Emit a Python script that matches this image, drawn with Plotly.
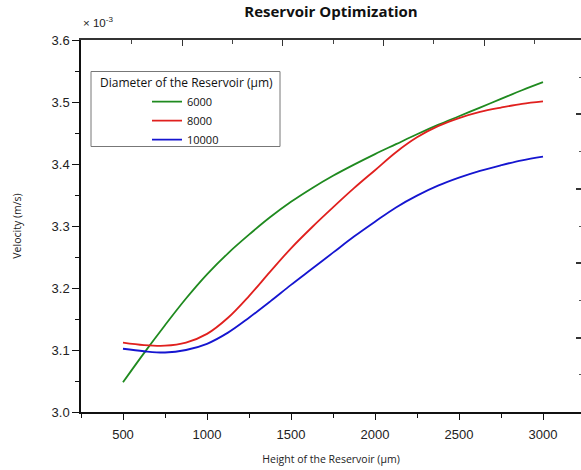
import plotly.graph_objects as go

# Height of the reservoir (µm)
height_um = [500, 625, 750, 875, 1000, 1125, 1250, 1375, 1500, 1625, 1750,
             1875, 2000, 2125, 2250, 2375, 2500, 2625, 2750, 2875, 3000]
# Velocity in units of 1e-3 m/s, per reservoir diameter (µm)
vel_6000 = [3.048, 3.095, 3.140, 3.183, 3.222, 3.256, 3.286, 3.314, 3.339, 3.361, 3.381,
            3.399, 3.416, 3.432, 3.448, 3.463, 3.477, 3.491, 3.505, 3.519, 3.532]
vel_8000 = [3.112, 3.108, 3.107, 3.112, 3.126, 3.152, 3.187, 3.226, 3.264, 3.298, 3.330,
            3.361, 3.390, 3.419, 3.443, 3.461, 3.474, 3.484, 3.491, 3.497, 3.501]
vel_10000 = [3.102, 3.098, 3.096, 3.100, 3.110, 3.128, 3.152, 3.178, 3.205, 3.231, 3.257,
             3.283, 3.307, 3.330, 3.349, 3.365, 3.378, 3.389, 3.398, 3.406, 3.412]
series_names = ["6000", "8000", "10000"]
series_colors = ["#1f8a1f", "#e0201e", "#1515d0"]
y_ticks = [3.0, 3.1, 3.2, 3.3, 3.4, 3.5, 3.6]
x_ticks = [500, 1000, 1500, 2000, 2500, 3000]

# frame (top / right) tick positions in plot pixels, as drawn in the reference
top_major = [101, 201, 302, 403]
top_minor = [50, 151, 252, 352, 453]
right_major = [74.4 * k for k in range(0, 6)]
right_minor = [37.2 + 74.4 * k for k in range(0, 5)]

fig = go.Figure()
for name, vals, col in zip(series_names, [vel_6000, vel_8000, vel_10000], series_colors):
    fig.add_trace(go.Scatter(x=height_um, y=vals, mode="lines", name=name,
                             line=dict(color=col, width=1.8, shape="spline", smoothing=1.0),
                             hoverinfo="skip"))

# invisible traces holding the frame axes
for xa, ya, xv, yv in [("x2", "y", 250, 3.3), ("x3", "y", 250, 3.3), ("x", "y2", 1000, 186)]:
    fig.add_trace(go.Scatter(x=[xv], y=[yv], xaxis=xa, yaxis=ya, mode="markers",
                             marker=dict(opacity=0), showlegend=False, hoverinfo="skip"))

tick_font = dict(family="Liberation Sans, Arial", size=13, color="#222")
title_font = dict(family="Open Sans", size=10.5, color="#222")
hidden_font = dict(size=6, color="rgba(0,0,0,0)")

fig.update_layout(
    width=581, height=470,
    margin=dict(l=81, r=0, t=40, b=58),
    paper_bgcolor="white", plot_bgcolor="white",
    showlegend=True,
    title=dict(text="<b>Reservoir Optimization</b>", x=331/581, xanchor="center",
               y=1 - 12/470, yanchor="middle",
               font=dict(family="Open Sans", size=15, color="#111")),
    xaxis=dict(range=[250, 250 + 500/0.168], tickvals=x_ticks, ticks="outside", ticklen=6,
               tickwidth=1.2, tickcolor="#111",
               minor=dict(dtick=250, tick0=250, ticks="outside", ticklen=4, tickcolor="#111", tickwidth=1.2),
               showline=True, linecolor="#111", linewidth=1.5, showgrid=False, zeroline=False,
               tickfont=tick_font, ticklabelstandoff=4,
               title=dict(text="Height of the Reservoir (µm)", font=title_font, standoff=14)),
    yaxis=dict(range=[3.0, 3.6], tickvals=y_ticks, ticktext=[f"{v:.1f}" for v in y_ticks],
               ticks="outside", ticklen=7, tickwidth=1.2, tickcolor="#111",
               minor=dict(dtick=0.05, tick0=3.0, ticks="outside", ticklen=4, tickcolor="#111", tickwidth=1.2),
               showline=True, linecolor="#111", linewidth=1.5, showgrid=False, zeroline=False,
               tickfont=tick_font,
               title=dict(text="Velocity (m/s)", font=title_font, standoff=28)),
    xaxis2=dict(overlaying="x", side="top", anchor="y", range=[0, 500],
                tickvals=top_major, tickfont=hidden_font,
                ticks="inside", ticklen=6, tickwidth=1.3, tickcolor="#333",
                showticklabels=True, showline=True, linecolor="#333", linewidth=1.5,
                showgrid=False, zeroline=False),
    xaxis3=dict(overlaying="x", side="top", anchor="y", range=[0, 500],
                tickvals=top_minor, tickfont=hidden_font,
                ticks="inside", ticklen=3.5, tickwidth=1.2, tickcolor="#444",
                showticklabels=True, showline=False, showgrid=False, zeroline=False),
    yaxis2=dict(overlaying="y", side="right", anchor="x", range=[0, 372],
                tickmode="array", tickvals=right_major,
                ticks="inside", ticklen=5, tickwidth=1.5, tickcolor="#333",
                minor=dict(tickmode="array", tickvals=right_minor,
                           ticks="inside", ticklen=2.5, tickcolor="#555", tickwidth=1.2),
                showticklabels=False, showline=False, showgrid=False, zeroline=False),
    legend=dict(x=(98-81)/500, y=(412.5-72)/372, xanchor="left", yanchor="top",
                bgcolor="rgba(0,0,0,0)", borderwidth=0,
                font=dict(family="Open Sans", size=11, color="#111"),
                title=dict(text="Diameter of the Reservoir (µm)", side="top center",
                           font=dict(family="Open Sans", size=12, color="#111")),
                indentation=49, itemwidth=30, tracegroupgap=0),
    shapes=[dict(type="rect", xref="paper", yref="paper",
                 x0=(91-81)/500, x1=(280-81)/500, y0=(412.5-147)/372, y1=(412.5-72)/372,
                 line=dict(color="#777", width=1), fillcolor="rgba(0,0,0,0)", layer="above")],
    annotations=[dict(text="× 10<sup>-3</sup>", xref="paper", yref="paper",
                      x=(81-81)/500, y=(412.5-23)/372, xanchor="left", yanchor="middle",
                      showarrow=False, font=dict(family="Liberation Sans, Arial", size=11.5, color="#222"))],
)

fig.write_html("out.html")
